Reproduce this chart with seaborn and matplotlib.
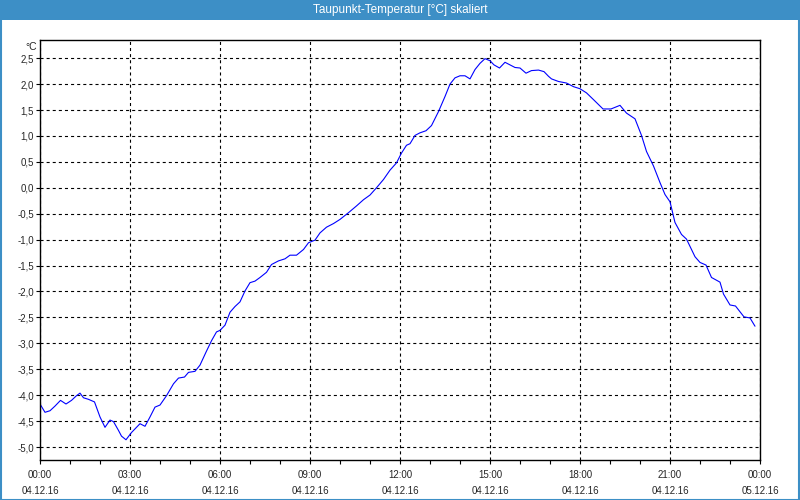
import matplotlib
matplotlib.use("Agg")
import matplotlib.pyplot as plt
import matplotlib.patches as mpatches
import seaborn as sns
import pandas as pd

# ---- data (minutes after 04.12.16 00:00, dew point in °C) ----
minutes = [0, 10, 20, 30, 41, 52, 63, 73, 80, 87, 97, 109, 120, 130, 140, 147, 157, 163,
           172, 183, 200, 210, 220, 230, 240, 253, 267, 277, 289, 297, 310, 320, 332, 343,
           353, 360, 370, 380, 390, 400, 410, 420, 430, 440, 453, 463, 477, 490, 500, 513,
           527, 537, 550, 560, 573, 587, 600, 617, 633, 647, 660, 673, 687, 700, 713, 723,
           733, 740, 750, 760, 772, 783, 797, 810, 820, 830, 840, 850, 860, 870, 880, 890,
           900, 908, 919, 930, 940, 950, 960, 972, 983, 997, 1008, 1017, 1023, 1037, 1053,
           1067, 1080, 1093, 1107, 1126, 1142, 1160, 1173, 1190, 1203, 1213, 1227, 1240,
           1250, 1260, 1270, 1283, 1293, 1310, 1320, 1332, 1343, 1360, 1367, 1380, 1391,
           1408, 1420, 1430]
dewpoint = [-4.17, -4.33, -4.30, -4.21, -4.10, -4.17, -4.10, -4.01, -3.96, -4.05, -4.08,
            -4.13, -4.42, -4.62, -4.48, -4.51, -4.68, -4.79, -4.86, -4.72, -4.55, -4.60,
            -4.42, -4.23, -4.19, -4.01, -3.78, -3.67, -3.65, -3.56, -3.54, -3.42, -3.17,
            -2.95, -2.78, -2.75, -2.65, -2.40, -2.29, -2.20, -1.99, -1.83, -1.80, -1.73,
            -1.63, -1.48, -1.41, -1.37, -1.30, -1.30, -1.19, -1.06, -1.01, -0.87, -0.76,
            -0.69, -0.61, -0.48, -0.35, -0.23, -0.14, 0.00, 0.16, 0.34, 0.48, 0.67, 0.82,
            0.85, 1.01, 1.06, 1.10, 1.20, 1.47, 1.76, 2.00, 2.12, 2.16, 2.16, 2.10, 2.28,
            2.40, 2.49, 2.45, 2.37, 2.31, 2.42, 2.37, 2.32, 2.31, 2.21, 2.26, 2.27, 2.24,
            2.15, 2.10, 2.05, 2.02, 1.95, 1.91, 1.83, 1.70, 1.52, 1.52, 1.59, 1.44, 1.33,
            1.01, 0.70, 0.42, 0.10, -0.13, -0.27, -0.67, -0.90, -0.99, -1.33, -1.44, -1.49,
            -1.73, -1.82, -2.05, -2.26, -2.28, -2.49, -2.51, -2.67]

x_tick_minutes = [0, 180, 360, 540, 720, 900, 1080, 1260, 1440]
x_tick_labels = ["00:00\n04.12.16", "03:00\n04.12.16", "06:00\n04.12.16", "09:00\n04.12.16",
                 "12:00\n04.12.16", "15:00\n04.12.16", "18:00\n04.12.16", "21:00\n04.12.16",
                 "00:00\n05.12.16"]
y_ticks = [2.5, 2.0, 1.5, 1.0, 0.5, 0.0, -0.5, -1.0, -1.5, -2.0, -2.5, -3.0, -3.5, -4.0, -4.5, -5.0]
y_tick_labels = ["2,5", "2,0", "1,5", "1,0", "0,5", "0,0", "-0,5", "-1,0", "-1,5", "-2,0",
                 "-2,5", "-3,0", "-3,5", "-4,0", "-4,5", "-5,0"]
title = "Taupunkt-Temperatur [°C] skaliert"
unit = "°C"

df = pd.DataFrame({"minute": minutes, "dewpoint": dewpoint})

sns.set_style("white")
plt.rcParams["font.family"] = ["Liberation Sans", "DejaVu Sans"]
plt.rcParams["lines.scale_dashes"] = False

BLUE = "#3d8fc6"
fig = plt.figure(figsize=(8, 5), dpi=100, facecolor="white")
ax = fig.add_axes([0.05, 0.08, 0.9, 0.84])
ax.set_facecolor("white")

sns.lineplot(data=df, x="minute", y="dewpoint", ax=ax, color="#0000ff", linewidth=0.8)

ax.set_xlim(0, 1440)
ax.set_ylim(-5.25, 2.85)
ax.set_xticks(x_tick_minutes)
ax.set_xticklabels(x_tick_labels, fontsize=7, linespacing=1.75)
ax.set_xticks(range(0, 1441, 60), minor=True)
ax.set_yticks(y_ticks)
ax.set_yticklabels(y_tick_labels, fontsize=7)
ax.set_xlabel("")
ax.set_ylabel("")

ax.tick_params(axis="x", which="both", direction="out", length=3, width=0.8, color="black",
               pad=4, bottom=True)
ax.tick_params(axis="y", which="both", direction="out", length=3, width=0.8, color="black",
               pad=1.5, left=True)

ax.grid(True, which="major", color="black", linestyle=(0, (2.2, 2.2)), linewidth=0.8)
for s in ax.spines.values():
    s.set_visible(True)
    s.set_color("black")
    s.set_linewidth(1.0)

ax.text(-0.004, 0.995, unit, transform=ax.transAxes, ha="right", va="top", fontsize=7.5)

# title bar
fig.patches.append(mpatches.Rectangle((0, 0.96), 1, 0.04, transform=fig.transFigure,
                                      facecolor=BLUE, edgecolor="none", zorder=0))
fig.patches.append(mpatches.Rectangle((0.0008, 0.001), 0.9984, 0.998, transform=fig.transFigure,
                                      facecolor="none", edgecolor=BLUE, linewidth=1.5, zorder=1))
fig.text(0.5, 0.98, title, ha="center", va="center", color="white", fontsize=8.5)

fig.savefig("out.png", dpi=100, facecolor="white")
